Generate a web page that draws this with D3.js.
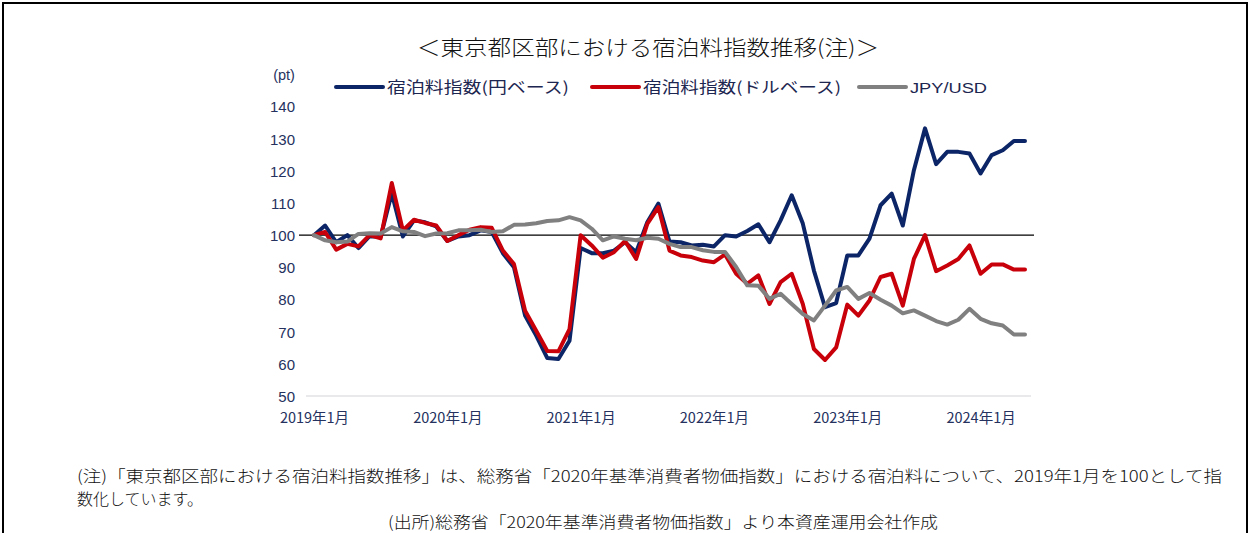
<!DOCTYPE html>
<html>
<head>
<meta charset="utf-8">
<script src="https://cdn.jsdelivr.net/npm/d3@7"></script>
<style>
  body { margin: 0; background: #fff; }
  svg { display: block; }
</style>
</head>
<body>
<div id="chart"></div>
<script>
/* Tokyo 23-ward accommodation price index chart */

var startYear = 2019,
  monthCount = 65,
  yTicks = [50, 60, 70, 80, 90, 100, 110, 120, 130, 140],
  legendNames = ["宿泊料指数(円ベース)", "宿泊料指数(ドルベース)", "JPY/USD"];

// Index, yen basis
var yenIndex = [100, 103, 97.8, 100, 96, 99.7, 99.5, 113, 99.6, 104.6, 104, 102.7,
  98.2, 99.6, 100, 101.5, 101, 94.4, 90, 75, 68.8, 61.8, 61.5, 67.2,
  96, 94.4, 94.4, 95.2, 97.8, 94.7, 104, 109.8, 98, 97.8, 96.8, 97,
  96.5, 100, 99.6, 101.3, 103.4, 97.8, 104.6, 112.4, 103.6, 89, 77.6, 78.9,
  93.7, 93.7, 98.9, 109.3, 112.9, 103, 120.2, 133.2, 122.1, 125.9, 125.9, 125.4,
  119.2, 124.9, 126.4, 129.3, 129.3];

// Index, dollar basis
var usdIndex = [100, 101, 95.5, 97.3, 96.5, 100, 99, 116.2, 101.5, 104.8, 103.8, 103,
  98.2, 100, 101.7, 102.5, 102.3, 95.2, 91, 76.5, 70.3, 64, 63.9, 70.8,
  100, 96.8, 93, 94.7, 98.2, 92.6, 103.5, 108.7, 95.2, 93.7, 93.2, 92.1,
  91.6, 94, 88, 84.9, 87.5, 78.6, 85.4, 88, 78.6, 64.6, 61.2, 65.1,
  78.4, 75, 79.7, 87, 88, 78.1, 92.6, 100, 88.8, 90.6, 92.6, 96.8,
  88, 90.9, 90.9, 89.3, 89.3];

// JPY/USD rebased
var fxIndex = [100, 98.4, 97.8, 98, 100.4, 100.6, 100.5, 102.5, 101.2, 101, 99.7, 100.5,
  100.6, 101.5, 101.5, 101.7, 101, 101.2, 103.2, 103.3, 103.7, 104.4, 104.6, 105.6,
  104.6, 102, 98.4, 99.6, 98.9, 98.4, 99.2, 98.9, 97.3, 96.3, 96.3, 95.3,
  94.8, 94.8, 90.1, 84.4, 84.3, 80.2, 81.8, 78.6, 75.5, 73.5, 78.1, 82.8,
  83.9, 80.2, 82, 79.9, 78.1, 75.7, 76.6, 75, 73.3, 72.2, 73.7, 77.1,
  74, 72.6, 71.9, 69.1, 69.1];

var noteLines = [
  "(注)「東京都区部における宿泊料指数推移」は、総務省「2020年基準消費者物価指数」における宿泊料について、2019年1月を100として指",
  "数化しています。"
];
var sourceLine = "(出所)総務省「2020年基準消費者物価指数」より本資産運用会社作成";

(function () {
  "use strict";

  var width = 1251,
    height = 533,
    colors = ["#0b2566", "#c8000a", "#808080"],
    series = [yenIndex, usdIndex, fxIndex],
    jp = "'Noto Sans CJK JP', sans-serif",
    labelFont = "'Liberation Sans', Arial, 'Noto Sans CJK JP', sans-serif",
    axisColor = "#25315e",
    svg, x, y, line, legend;

  svg = d3.select("#chart").append("svg")
    .attr("width", width)
    .attr("height", height);

  // Outer frame (bottom edge runs off the picture)
  svg.append("rect")
    .attr("x", 3).attr("y", 3)
    .attr("width", 1244).attr("height", 560)
    .attr("fill", "none")
    .attr("stroke", "#000")
    .attr("stroke-width", 2);

  // Title
  svg.append("text")
    .attr("x", 648).attr("y", 55)
    .attr("text-anchor", "middle")
    .attr("font-family", jp)
    .attr("font-size", 21)
    .attr("font-weight", 300)
    .attr("fill", "#111")
    .attr("textLength", 462)
    .attr("lengthAdjust", "spacingAndGlyphs")
    .text("＜東京都区部における宿泊料指数推移(注)＞");

  x = d3.scaleLinear().domain([0, monthCount - 1]).range([314, 1025]);
  y = d3.scaleLinear().domain([50, 140]).range([396, 106.5]);

  // Bottom axis line
  svg.append("line")
    .attr("x1", 306).attr("x2", 1031)
    .attr("y1", y(50)).attr("y2", y(50))
    .attr("stroke", "#d4d4d8")
    .attr("stroke-width", 1.2);

  // Y labels
  svg.append("g")
    .attr("transform", "translate(295,0)")
    .call(d3.axisLeft(y).tickValues(yTicks).tickSize(0).tickPadding(0))
    .call(function (g) {
      g.select(".domain").remove();
      g.selectAll("text")
        .attr("font-family", labelFont)
        .attr("font-size", 15)
        .attr("fill", axisColor)
        .attr("dy", "0.36em");
    });

  svg.append("text")
    .attr("x", 284).attr("y", 80)
    .attr("text-anchor", "middle")
    .attr("font-family", labelFont)
    .attr("font-size", 14.5)
    .attr("fill", axisColor)
    .text("(pt)");

  // X labels at each January
  svg.append("g")
    .attr("transform", "translate(0,409)")
    .call(d3.axisBottom(x)
      .tickValues(d3.range(0, monthCount, 12))
      .tickSize(0).tickPadding(0)
      .tickFormat(function (d) { return (startYear + d / 12) + "年1月"; }))
    .call(function (g) {
      g.select(".domain").remove();
      g.selectAll("text")
        .attr("font-family", jp)
        .attr("font-size", 14.5)
        .attr("fill", axisColor)
        .attr("dy", "0.95em");
    });

  // 100 reference line
  svg.append("line")
    .attr("x1", 299).attr("x2", 1034)
    .attr("y1", y(100)).attr("y2", y(100))
    .attr("stroke", "#000")
    .attr("stroke-width", 1.3);

  line = d3.line()
    .x(function (d, i) { return x(i); })
    .y(function (d) { return y(d); });

  series.forEach(function (s, k) {
    svg.append("path")
      .datum(s)
      .attr("d", line)
      .attr("fill", "none")
      .attr("stroke", colors[k])
      .attr("stroke-width", 4)
      .attr("stroke-linejoin", "round")
      .attr("stroke-linecap", "round");
  });

  // Legend
  var legendX = [336, 592, 859],
    legendW = [182, 198, 77];

  legend = svg.append("g").attr("class", "legend");
  legendNames.forEach(function (name, k) {
    legend.append("line")
      .attr("x1", legendX[k]).attr("x2", legendX[k] + 47)
      .attr("y1", 87).attr("y2", 87)
      .attr("stroke", colors[k])
      .attr("stroke-width", 4)
      .attr("stroke-linecap", "round");
    legend.append("text")
      .attr("x", legendX[k] + 51).attr("y", 93)
      .attr("font-family", k === 2 ? labelFont : jp)
      .attr("font-size", 15.5)
      .attr("fill", "#1c2650")
      .attr("textLength", legendW[k])
      .attr("lengthAdjust", "spacingAndGlyphs")
      .text(name);
  });

  // Notes
  svg.append("text")
    .attr("x", 77).attr("y", 482)
    .attr("font-family", jp)
    .attr("font-size", 16)
    .attr("font-weight", 300)
    .attr("fill", "#111")
    .attr("textLength", 1145)
    .attr("lengthAdjust", "spacingAndGlyphs")
    .text(noteLines[0]);

  svg.append("text")
    .attr("x", 77).attr("y", 505)
    .attr("font-family", jp)
    .attr("font-size", 16)
    .attr("font-weight", 300)
    .attr("fill", "#111")
    .text(noteLines[1]);

  svg.append("text")
    .attr("x", 663).attr("y", 528)
    .attr("text-anchor", "middle")
    .attr("font-family", jp)
    .attr("font-size", 16)
    .attr("font-weight", 300)
    .attr("fill", "#111")
    .attr("textLength", 550)
    .attr("lengthAdjust", "spacingAndGlyphs")
    .text(sourceLine);
})();
</script>
</body>
</html>
